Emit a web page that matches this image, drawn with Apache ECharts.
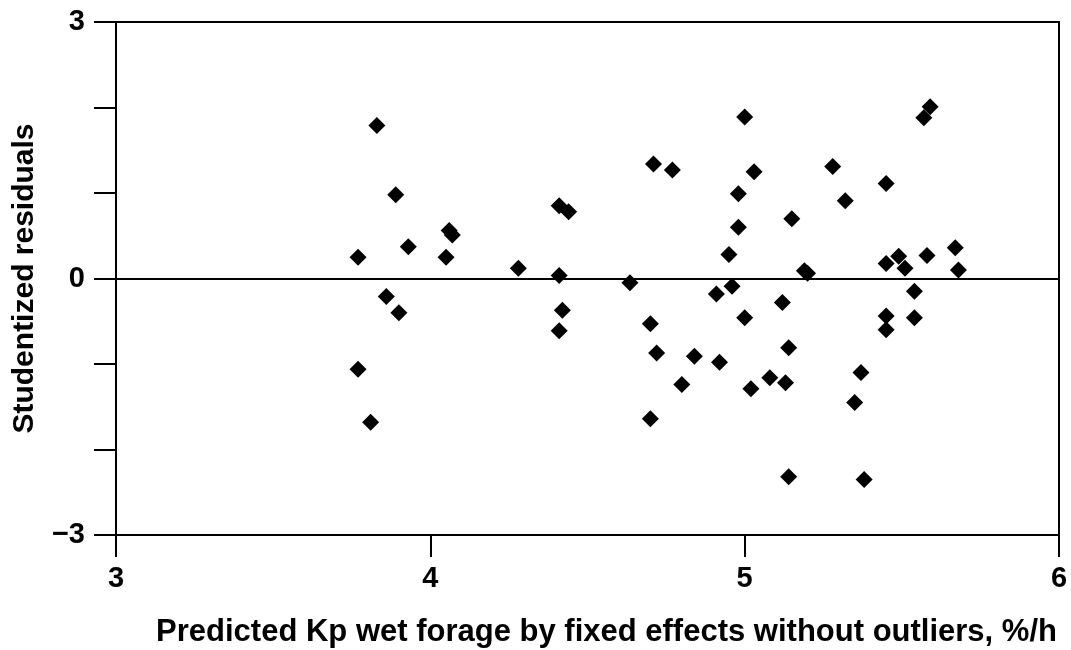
<!DOCTYPE html>
<html>
<head>
<meta charset="utf-8">
<script src="https://cdn.jsdelivr.net/npm/echarts@6/dist/echarts.min.js"></script>
<style>
  html, body { margin: 0; padding: 0; background: #fff; }
  #chart { width: 1071px; height: 650px; }
</style>
</head>
<body>
<div id="chart"></div>
<script>
// predicted Kp (x) and studentized residual (y)
const predictedKp = [
  3.77, 3.83, 3.89, 3.93, 3.86, 3.90, 3.77, 3.81,
  4.05, 4.06, 4.07, 4.28, 4.41, 4.44, 4.41, 4.42, 4.41,
  4.635, 4.71, 4.77, 5.00, 5.03, 4.98, 4.98, 4.95, 5.15, 5.19, 5.20,
  5.28, 5.32, 4.91, 4.96, 5.12, 5.00, 4.70, 4.72, 4.84, 4.92, 4.80,
  5.02, 5.08, 5.13, 5.14, 4.70, 5.14,
  5.59, 5.57, 5.45, 5.45, 5.49, 5.51, 5.58, 5.67, 5.68, 5.54,
  5.45, 5.45, 5.54, 5.37, 5.35, 5.38
]
const residuals = [
  0.25, 1.79, 0.98, 0.37, -0.21, -0.40, -1.06, -1.68,
  0.25, 0.56, 0.51, 0.12, 0.85, 0.78, 0.035, -0.37, -0.61,
  -0.05, 1.34, 1.27, 1.89, 1.25, 0.99, 0.60, 0.28, 0.70, 0.09, 0.06,
  1.31, 0.91, -0.18, -0.09, -0.28, -0.46, -0.53, -0.87, -0.91, -0.98, -1.24,
  -1.29, -1.16, -1.22, -0.81, -1.64, -2.32,
  2.01, 1.88, 1.11, 0.175, 0.26, 0.12, 0.27, 0.36, 0.10, -0.15,
  -0.44, -0.60, -0.46, -1.10, -1.45, -2.35
]
const yLabels = [3, 0, -3]

const points = predictedKp.map((x, i) => [x, residuals[i]])
const fontFamily = '"Liberation Sans", Arial, sans-serif'

const chart = echarts.init(document.getElementById('chart'))
chart.setOption({
  animation: false,
  grid: {
    left: 116,
    right: 12,
    top: 22,
    bottom: 115,
    outerBoundsMode: 'none',
    containLabel: false,
    show: true,
    borderColor: '#000',
    borderWidth: 2
  },
  xAxis: {
    type: 'value',
    min: 3,
    max: 6,
    interval: 1,
    name: 'Predicted Kp wet forage by fixed effects without outliers, %/h',
    nameLocation: 'middle',
    nameGap: 82,
    nameTextStyle: { color: '#000', fontSize: 31, fontWeight: 'bold', fontFamily: fontFamily, padding: [0, 0, 0, 38] },
    axisLine: { onZero: false, lineStyle: { color: '#000', width: 2 } },
    axisTick: { show: true, inside: false, length: 22, lineStyle: { color: '#000', width: 2 } },
    axisLabel: { color: '#000', fontSize: 29, fontWeight: 'bold', fontFamily: fontFamily, margin: 29 },
    splitLine: { show: false }
  },
  yAxis: {
    type: 'value',
    min: -3,
    max: 3,
    interval: 1,
    name: 'Studentized residuals',
    nameLocation: 'middle',
    nameGap: 76,
    nameTextStyle: { color: '#000', fontSize: 30, fontWeight: 'bold', fontFamily: fontFamily },
    axisLine: { onZero: false, lineStyle: { color: '#000', width: 2 } },
    axisTick: { show: true, inside: false, length: 22, lineStyle: { color: '#000', width: 2 } },
    axisLabel: {
      color: '#000', fontSize: 29, fontWeight: 'bold', fontFamily: fontFamily, margin: 31,
      formatter: v => yLabels.includes(v) ? (v < 0 ? '\u2212' + Math.abs(v) : String(v)) : ''
    },
    splitLine: { show: false }
  },
  series: [{
    type: 'scatter',
    data: points,
    symbol: 'diamond',
    symbolSize: 17,
    itemStyle: { color: '#000', opacity: 1 },
    markLine: {
      silent: true,
      symbol: 'none',
      label: { show: false },
      lineStyle: { color: '#000', width: 2, type: 'solid' },
      data: [{ yAxis: 0 }]
    }
  }]
})
</script>
</body>
</html>
